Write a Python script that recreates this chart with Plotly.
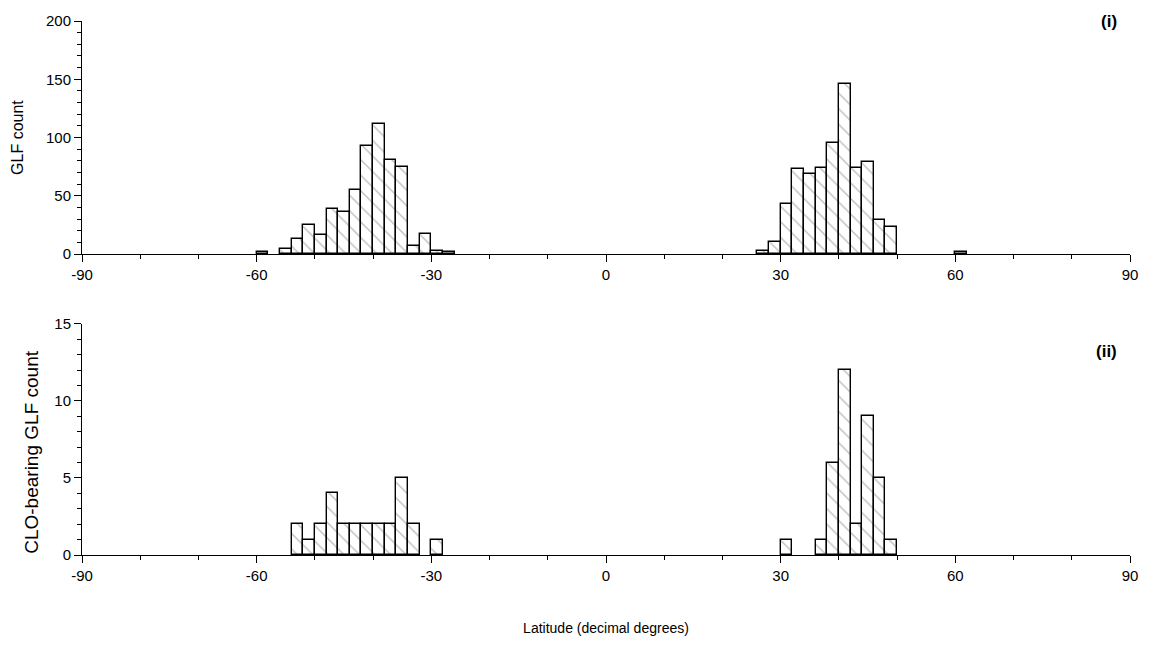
import plotly.graph_objects as go

# Bin left edges (2-degree bins) and counts (empty bins omitted)
glf_bins = [-60, -56, -54, -52, -50, -48, -46, -44, -42, -40, -38, -36, -34, -32, -30, -28,
            26, 28, 30, 32, 34, 36, 38, 40, 42, 44, 46, 48, 60]
glf_counts = [2, 4, 13, 25, 16, 39, 36, 55, 93, 112, 81, 75, 7, 17, 3, 2,
              3, 10, 43, 73, 69, 74, 95, 146, 74, 79, 29, 23, 2]

clo_bins = [-54, -52, -50, -48, -46, -44, -42, -40, -38, -36, -34, -30,
            30, 36, 38, 40, 42, 44, 46, 48]
clo_counts = [2, 1, 2, 4, 2, 2, 2, 2, 2, 5, 2, 1,
              1, 1, 6, 12, 2, 9, 5, 1]

bin_width = 2
x_ticks = [-90, -60, -30, 0, 30, 60, 90]

FONT = "Liberation Sans, Arial, sans-serif"

fig = go.Figure()

pattern = dict(shape="\\", fgcolor="#777777", bgcolor="white", size=11, solidity=0.12, fillmode="overlay")

fig.add_trace(go.Bar(
    x=[b + bin_width / 2 for b in glf_bins], y=glf_counts, width=bin_width,
    marker=dict(color="white", line=dict(color="black", width=1.4), pattern=pattern),
    xaxis="x", yaxis="y", showlegend=False))

fig.add_trace(go.Bar(
    x=[b + bin_width / 2 for b in clo_bins], y=clo_counts, width=bin_width,
    marker=dict(color="white", line=dict(color="black", width=1.4), pattern=pattern),
    xaxis="x2", yaxis="y2", showlegend=False))

xcommon = dict(range=[-90, 90], tickvals=x_ticks, ticktext=[str(t) for t in x_ticks],
               ticks="outside", ticklen=7, tickwidth=1, tickcolor="black",
               minor=dict(dtick=10, tick0=0, ticks="outside", ticklen=4, tickcolor="black"),
               showline=True, linecolor="black", linewidth=1, showgrid=False, zeroline=False,
               tickfont=dict(family=FONT, size=15, color="black"))

ycommon = dict(ticks="outside", ticklen=7, tickwidth=1, tickcolor="black",
               showline=True, linecolor="black", linewidth=1, showgrid=False, zeroline=False,
               tickfont=dict(family=FONT, size=15, color="black"))

fig.update_layout(
    width=1150, height=646,
    margin=dict(l=82, r=19, t=17, b=86),
    plot_bgcolor="white", paper_bgcolor="white",
    bargap=0,
    font=dict(family=FONT, color="black"),
    xaxis=dict(**xcommon, domain=[0, 1], anchor="y"),
    yaxis=dict(**ycommon, domain=[0.5635, 1], range=[0, 200], tickvals=[0, 50, 100, 150, 200],
               minor=dict(dtick=10, ticks="outside", ticklen=4, tickcolor="black"),
               title=dict(text="GLF count", font=dict(family=FONT, size=16), standoff=18), anchor="x"),
    xaxis2=dict(**xcommon, domain=[0, 1], anchor="y2",
                title=dict(text="Latitude (decimal degrees)", font=dict(family=FONT, size=14), standoff=40)),
    yaxis2=dict(**ycommon, domain=[0, 0.4328], range=[0, 15], tickvals=[0, 5, 10, 15],
                minor=dict(dtick=1, ticks="outside", ticklen=4, tickcolor="black"), anchor="x2"),
    annotations=[
        dict(text="CLO-bearing GLF count", xref="paper", yref="paper",
             x=(32 - 82) / 1049, y=(560 - 456) / 543, textangle=-90,
             showarrow=False, xanchor="center", yanchor="middle",
             font=dict(family=FONT, size=19, color="black")),
        dict(text="<b>(i)</b>", xref="paper", yref="paper", x=(1110 - 82) / 1049, y=1 - 1 / 543,
             showarrow=False, xanchor="center", yanchor="middle",
             font=dict(family=FONT, size=17, color="black")),
        dict(text="<b>(ii)</b>", xref="paper", yref="paper", x=(1107 - 82) / 1049, y=(560 - 353) / 543,
             showarrow=False, xanchor="center", yanchor="middle",
             font=dict(family=FONT, size=17, color="black")),
    ],
)

fig.write_html("out.html")
